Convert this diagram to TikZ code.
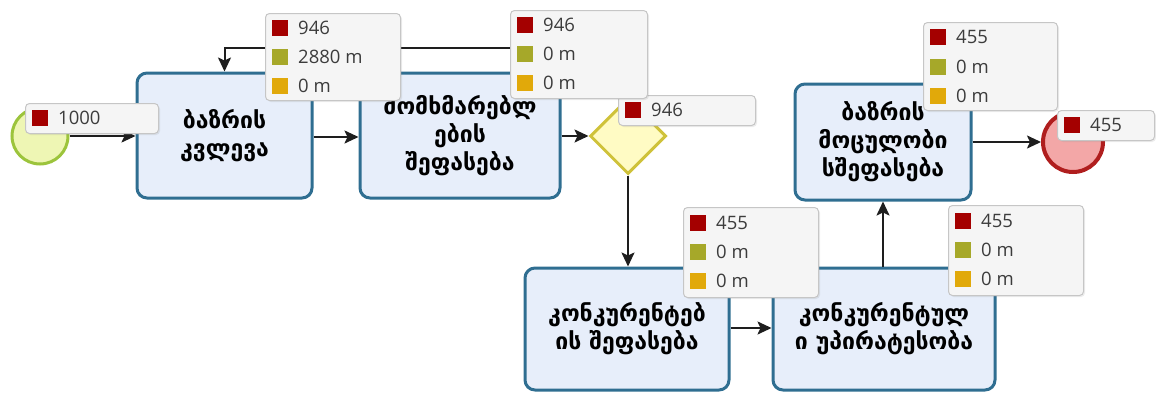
\documentclass[tikz,border=0pt]{standalone}
\usepackage{fontspec}
\setmainfont{Open Sans}
\newfontfamily\geofont{DejaVu Sans}
\usetikzlibrary{shapes.geometric,arrows.meta,calc,shadows}
\definecolor{boxfill}{HTML}{E7EEFA}
\definecolor{boxline}{HTML}{2F6E91}
\definecolor{startfill}{HTML}{EEF6B4}
\definecolor{startline}{HTML}{9CC43C}
\definecolor{endfill}{HTML}{F3A7A7}
\definecolor{endline}{HTML}{B01E1E}
\definecolor{diafill}{HTML}{FFFBC4}
\definecolor{dialine}{HTML}{CFC23A}
\definecolor{arrowc}{HTML}{1E1E1E}
\definecolor{lblfill}{HTML}{F5F5F5}
\definecolor{lblline}{HTML}{C6C6C6}
\definecolor{lbltext}{HTML}{3C3C3C}
\definecolor{cR}{HTML}{A40000}
\definecolor{cO}{HTML}{A6A829}
\definecolor{cY}{HTML}{E1A90A}
\tikzset{
  task/.style={draw=boxline, line width=3pt, fill=boxfill, rounded corners=10pt,
    font=\geofont\bfseries\fontsize{23}{28}\selectfont, align=center, text=black, inner sep=0pt},
  flow/.style={line width=2pt, draw=arrowc, -{Stealth[length=14pt,width=13pt,inset=3pt]}},
  lbl/.style={draw=lblline, fill=lblfill, rounded corners=4pt, line width=1pt, inner sep=0pt,
    drop shadow={opacity=0.15, shadow xshift=1.5pt, shadow yshift=-1.5pt}},
  sq/.style={minimum size=16pt, inner sep=0pt, draw=none},
  lt/.style={anchor=west, inner sep=0pt, font=\fontsize{18.5}{20}\selectfont, text=lbltext},
}
\newcommand{\statbox}[5]{%
  \node[lbl, minimum width=#4pt, minimum height=#5pt, anchor=north west] (#1) at (#2,#3) {};}
\newcommand{\statrow}[5]{%
  \node[sq, fill=#4] (#1s) at ($(#2.north west)+(15,#3)$) {};
  \node[lt] (#1t) at ($(#2.north west)+(33,#3)$) {#5};}
\begin{document}
\begin{tikzpicture}[x=1pt,y=-1pt]
\useasboundingbox (0,0) rectangle (1156,394);
% events and gateway
\node[circle, draw=startline, fill=startfill, line width=3pt, minimum size=56pt, inner sep=0pt] (start) at (40,136) {};
\node[circle, draw=endline, fill=endfill, line width=4pt, minimum size=60pt, inner sep=0pt] (end) at (1073,142) {};
\node[diamond, draw=dialine, fill=diafill, line width=3pt, minimum size=76pt, inner sep=0pt] (dia) at (628,136) {};
% tasks
\node[task, minimum width=175pt, minimum height=125pt] (b1) at (224.5,135.5) {ბაზრის\\კვლევა};
\node[task, minimum width=200pt, minimum height=125pt] (b2) at (460,135.5) {მომხმარებლ\\ების\\შეფასება};
\node[task, minimum width=204pt, minimum height=122pt] (b3) at (627,329) {კონკურენტებ\\ის შეფასება};
\node[task, minimum width=222pt, minimum height=122pt] (b4) at (884,329) {კონკურენტულ\\ი უპირატესობა};
\node[task, minimum width=176pt, minimum height=116pt] (b5) at (883,142) {ბაზრის\\მოცულობი\\სშეფასება};
% connectors
\coordinate (lc) at (224.5,48);
\draw[flow] (start.east) -- (start.east -| b1.west);
\draw[flow] (b1.east |- 0,137) -- (b2.west |- 0,137);
\draw[flow] (b2.east |- dia.west) -- (dia.west);
\draw[flow] (dia.north) |- (lc) -- (b1.north);
\draw[flow] (dia.south) -- (dia.south |- b3.north);
\draw[flow] (b3.east |- 0,328) -- (b4.west |- 0,328);
\draw[flow] (b5.south |- b4.north) -- (b5.south);
\draw[flow] (b5.east) -- (end.west);
% statistics labels
\statbox{L0}{25}{103}{133}{30}
\statrow{L0a}{L0}{15}{cR}{1000}
\statbox{L1}{265}{13}{135}{87}
\statrow{L1a}{L1}{15}{cR}{946}
\statrow{L1b}{L1}{44}{cO}{2880 m}
\statrow{L1c}{L1}{73}{cY}{0 m}
\statbox{L3}{618}{95}{137}{30}
\statrow{L3a}{L3}{15}{cR}{946}
\statbox{L2}{510}{10}{137}{88}
\statrow{L2a}{L2}{15}{cR}{946}
\statrow{L2b}{L2}{44}{cO}{0 m}
\statrow{L2c}{L2}{73}{cY}{0 m}
\statbox{L4}{923}{22}{134}{88}
\statrow{L4a}{L4}{15}{cR}{455}
\statrow{L4b}{L4}{45}{cO}{0 m}
\statrow{L4c}{L4}{74}{cY}{0 m}
\statbox{L5}{1057}{110}{97}{30}
\statrow{L5a}{L5}{15}{cR}{455}
\statbox{L6}{683}{207}{135}{90}
\statrow{L6a}{L6}{16}{cR}{455}
\statrow{L6b}{L6}{45}{cO}{0 m}
\statrow{L6c}{L6}{74}{cY}{0 m}
\statbox{L7}{948}{205}{135}{90}
\statrow{L7a}{L7}{16}{cR}{455}
\statrow{L7b}{L7}{45}{cO}{0 m}
\statrow{L7c}{L7}{74}{cY}{0 m}
\end{tikzpicture}
\end{document}
